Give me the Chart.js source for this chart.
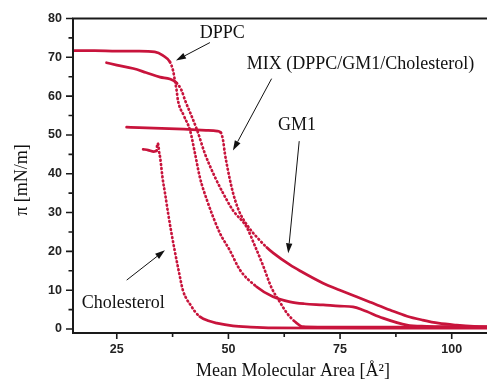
<!DOCTYPE html>
<html><head><meta charset="utf-8">
<script src="https://cdn.jsdelivr.net/npm/chart.js@4/dist/chart.umd.min.js"></script>
<style>html,body{margin:0;padding:0;background:#fff;overflow:hidden}</style>
</head><body>
<canvas id="c" width="487" height="379"></canvas>
<script>
// ---- data (Mean molecular area [Å²], surface pressure π [mN/m]) ----
const dppcArea = [14, 20, 25, 30, 33.5, 35.3, 36.9, 37.6, 38.0, 38.4, 38.7, 40.0, 41.4, 42.5, 43.6, 45.2, 48.1, 50.3, 52.6, 56.3, 60.0, 63.8, 67, 71.2, 75, 77.9, 80.1, 84.6, 90.0, 94.4, 100, 110];
const dppcPi   = [71.7, 71.7, 71.6, 71.6, 71.4, 70.5, 68.8, 66.6, 64.1, 61.5, 58.9, 55.0, 51.2, 45.3, 39.1, 33.2, 24.7, 20.3, 15.2, 10.9, 8.3, 7.0, 6.5, 6.2, 5.9, 5.7, 4.9, 2.8, 1.0, 0.7, 0.6, 0.5];

const mixArea = [22.7, 25, 28.7, 31.5, 34.7, 36.9, 38.4, 39.5, 40.3, 41.7, 43.0, 44.7, 47.0, 48.8, 51.0, 54.1, 55.9, 57.7, 59.7, 61.5, 63.1, 65, 66.7, 70, 80, 90, 100, 110];
const mixPi   = [68.6, 68.0, 67.1, 66.1, 64.9, 64.4, 63.4, 61.5, 58.9, 55.0, 51.2, 45.3, 39.1, 35.0, 30.6, 26.2, 21.5, 16.5, 10.5, 7.0, 4.1, 1.8, 0.6, 0.5, 0.5, 0.5, 0.5, 0.5];

const gm1Area = [27.2, 30, 35, 40, 45, 47.5, 48.3, 48.8, 49.2, 49.9, 50.7, 51.5, 52.6, 54.8, 56.5, 58.6, 60.0, 63.8, 66, 71.2, 75, 78.7, 82, 86.2, 90, 93.5, 97, 101.1, 105, 110];
const gm1Pi   = [52.0, 51.9, 51.7, 51.5, 51.2, 51.0, 50.6, 48.6, 45.3, 40.9, 36.6, 33.2, 29.8, 25.8, 23.5, 21.0, 19.6, 16.5, 15.0, 11.8, 10.0, 8.3, 6.8, 4.9, 3.3, 2.3, 1.5, 1.0, 0.7, 0.6];

const cholArea = [30.9, 32.0, 33.3, 33.9, 34.1, 34.3, 34.5, 34.7, 35.3, 35.8, 36.5, 37.2, 38.0, 38.9, 39.8, 40.6, 41.4, 42.5, 43.6, 45.5, 47.4, 51, 55, 60, 80, 110];
const cholPi   = [46.3, 46.1, 45.7, 45.9, 47.8, 47.5, 45.5, 44.3, 38.5, 35.0, 29.8, 25.0, 20.0, 14.8, 10.0, 7.8, 6.4, 4.5, 3.2, 2.1, 1.5, 0.8, 0.5, 0.3, 0.2, 0.2];

const xTicks = [25, 50, 75, 100];
const xMinorTicks = [37.5, 62.5, 87.5];
const yTicks = [0, 10, 20, 30, 40, 50, 60, 70, 80];
const yMinorTicks = [5, 15, 25, 35, 45, 55, 65, 75];

const noteTexts = ['DPPC', 'MIX (DPPC/GM1/Cholesterol)', 'GM1', 'Cholesterol'];
const noteAt = [[43.6, 75.1], [54.1, 67.1], [61.1, 51.2], [17.15, 5.4]];
const arrowFrom = [[45.86, 73.8], [59.67, 64.5], [65.85, 48.4], [27.22, 12.6]];
const arrowTo   = [[38.25, 69.2], [51.01, 46.0], [63.39, 19.5], [35.79, 20.3]];

const xTitle = 'Mean Molecular Area [Å²]';
const yTitle = 'π [mN/m]';

// ---- build ----
const RED = '#c8143c';
const zip = (a, b) => a.map((v, i) => ({x: v, y: b[i]}));
function series(label, a, p) {
  return {
    label, data: zip(a, p), showLine: true, borderColor: RED, backgroundColor: RED,
    borderWidth: 2.7, pointRadius: 0, tension: 0, cubicInterpolationMode: 'monotone',
    borderCapStyle: 'round', borderJoinStyle: 'round',
    segment: {
      borderDash: ctx => {
        const dx = Math.abs(ctx.p1.x - ctx.p0.x), dy = Math.abs(ctx.p1.y - ctx.p0.y);
        return dy > 1.0 * dx ? [0.8, 3.3] : undefined;
      }
    }
  };
}

const SERIF = '"Liberation Serif", "Times New Roman", serif';
const overlay = {
  id: 'overlay',
  afterDatasetsDraw(chart) {
    const {ctx, chartArea: a, scales: {x, y}} = chart;
    ctx.save();
    ctx.strokeStyle = '#1a1a1a'; ctx.fillStyle = '#1a1a1a';
    // frame (left, bottom, top)
    ctx.lineWidth = 2;
    ctx.beginPath();
    ctx.moveTo(a.right + 2, a.top); ctx.lineTo(a.left, a.top); ctx.lineTo(a.left, a.bottom); ctx.lineTo(a.right + 2, a.bottom);
    ctx.stroke();
    ctx.lineWidth = 1.6;
    ctx.beginPath();
    yTicks.forEach(v => { const py = y.getPixelForValue(v); ctx.moveTo(a.left - 7, py); ctx.lineTo(a.left, py); });
    yMinorTicks.forEach(v => { const py = y.getPixelForValue(v); ctx.moveTo(a.left - 4.5, py); ctx.lineTo(a.left, py); });
    xTicks.forEach(v => { const px = x.getPixelForValue(v); ctx.moveTo(px, a.bottom); ctx.lineTo(px, a.bottom + 6); });
    xMinorTicks.forEach(v => { const px = x.getPixelForValue(v); ctx.moveTo(px, a.bottom); ctx.lineTo(px, a.bottom + 4); });
    ctx.stroke();
    // notes
    ctx.font = '18px ' + SERIF;
    ctx.textBaseline = 'alphabetic'; ctx.textAlign = 'left';
    ctx.fillStyle = '#111';
    noteTexts.forEach((t, i) => ctx.fillText(t, x.getPixelForValue(noteAt[i][0]), y.getPixelForValue(noteAt[i][1])));
    // arrows
    ctx.strokeStyle = '#111'; ctx.lineWidth = 1;
    arrowFrom.forEach((f, i) => {
      const x0 = x.getPixelForValue(f[0]), y0 = y.getPixelForValue(f[1]);
      const x1 = x.getPixelForValue(arrowTo[i][0]), y1 = y.getPixelForValue(arrowTo[i][1]);
      const ang = Math.atan2(y1 - y0, x1 - x0), L = 10, W = 3.2;
      const bx = x1 - L * Math.cos(ang), by = y1 - L * Math.sin(ang);
      ctx.beginPath(); ctx.moveTo(x0, y0); ctx.lineTo(bx, by); ctx.stroke();
      ctx.beginPath(); ctx.moveTo(x1, y1);
      ctx.lineTo(bx + W * Math.sin(ang), by - W * Math.cos(ang));
      ctx.lineTo(bx - W * Math.sin(ang), by + W * Math.cos(ang));
      ctx.closePath(); ctx.fill();
    });
    // axis titles
    ctx.font = '18px ' + SERIF;
    ctx.textAlign = 'center';
    ctx.fillText(xTitle, 293, 376);
    ctx.translate(27, 180); ctx.rotate(-Math.PI / 2);
    ctx.fillText(yTitle, 0, 0);
    ctx.restore();
  }
};

const tickFont = {family: '"Liberation Sans", Arial, sans-serif', size: 12.5, weight: 'bold'};
new Chart(document.getElementById('c'), {
  type: 'scatter',
  data: {datasets: [
    series('DPPC', dppcArea, dppcPi),
    series('MIX (DPPC/GM1/Cholesterol)', mixArea, mixPi),
    series('GM1', gm1Area, gm1Pi),
    series('Cholesterol', cholArea, cholPi)
  ]},
  options: {
    responsive: false, animation: false, devicePixelRatio: 1,
    layout: {padding: {top: 18, right: 0, left: 0, bottom: 0}},
    plugins: {legend: {display: false}, tooltip: {enabled: false}},
    scales: {
      x: {
        type: 'linear', min: 15.2, max: 107.9,
        afterBuildTicks: s => { s.ticks = xTicks.map(v => ({value: v})); },
        afterFit: s => { s.height = 46; },
        grid: {display: false, drawTicks: false}, border: {display: false},
        ticks: {font: tickFont, color: '#222', padding: 9, maxRotation: 0, autoSkip: false}
      },
      y: {
        type: 'linear', min: -1.03, max: 80,
        afterBuildTicks: s => { s.ticks = yTicks.map(v => ({value: v})); },
        afterFit: s => { s.width = 73; },
        grid: {display: false, drawTicks: false}, border: {display: false},
        ticks: {font: tickFont, color: '#222', padding: 11, autoSkip: false}
      }
    }
  },
  plugins: [overlay]
});
</script>
</body></html>
